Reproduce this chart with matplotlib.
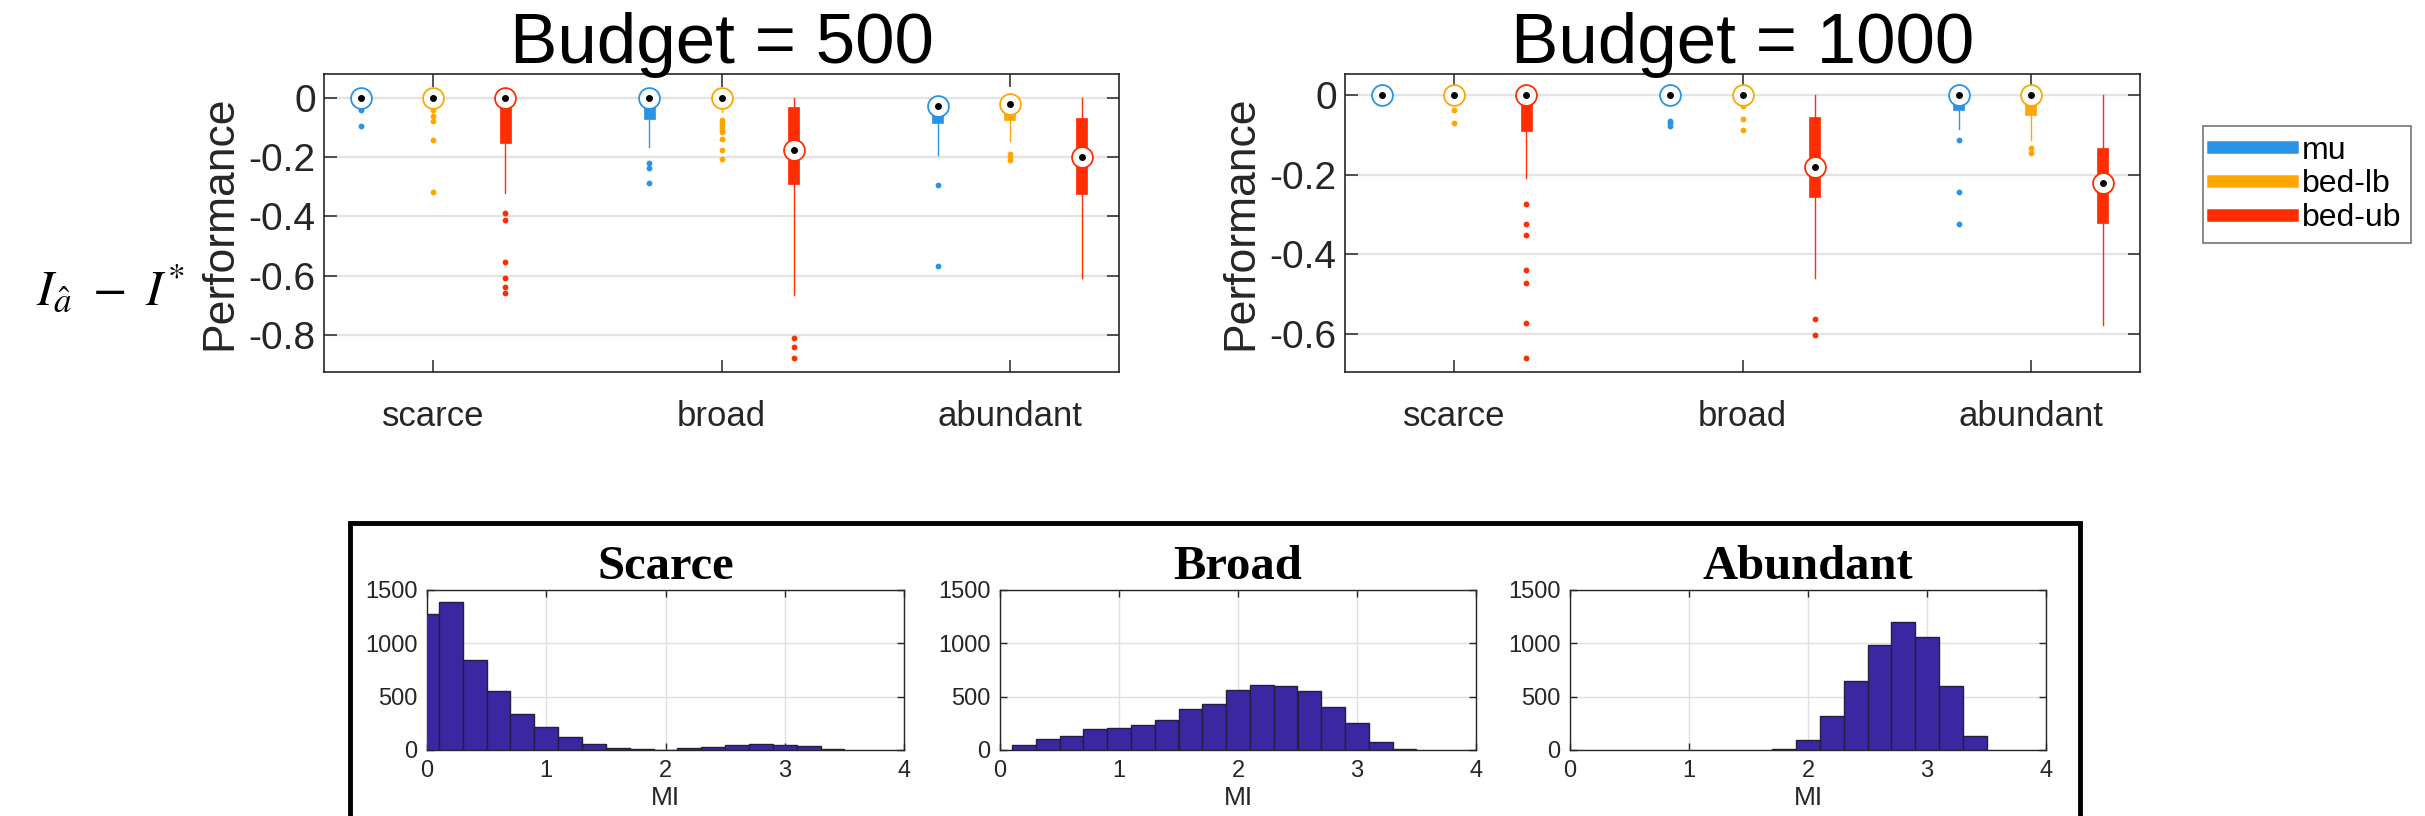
"""
plot.py — boxplots of I_hat - I* per regime, plus MI histograms
"""

import numpy as np
import matplotlib
matplotlib.use("Agg")
import matplotlib.pyplot as plt
from matplotlib.lines import Line2D
from matplotlib.patches import Rectangle

plt.rcParams["font.family"] = ["Liberation Sans", "DejaVu Sans"]
plt.rcParams["axes.unicode_minus"] = False
plt.rcParams["mathtext.fontset"] = "stix"

# ── Data ─────────────────────────────────────────────────────────────────────
categories = ["scarce", "broad", "abundant"]
methods    = ["mu", "bed-lb", "bed-ub"]
colors     = ["#2a93e6", "#ffa600", "#ff2d00"]

# rows = category, cols = method
med_500 = [[0.0, 0.0, 0.0], [0.0, 0.0, -0.177], [-0.028, -0.020, -0.199]]
q3_500  = [[0.0, 0.0, 0.0], [0.0, 0.0, -0.032], [0.0, -0.005, -0.069]]
q1_500  = [[-0.006, -0.006, -0.154], [-0.071, -0.006, -0.292], [-0.086, -0.075, -0.325]]
lo_500  = [[-0.006, -0.012, -0.320], [-0.165, -0.049, -0.664], [-0.192, -0.145, -0.608]]
hi_500  = [[0.0, 0.0, 0.0], [0.0, 0.0, 0.0], [0.0, 0.0, 0.0]]
out_500 = [
    [[-0.025, -0.035, -0.040, -0.097],
     [-0.026, -0.043, -0.062, -0.077, -0.142, -0.318],
     [-0.388, -0.412, -0.553, -0.607, -0.640, -0.657]],
    [[-0.220, -0.238, -0.286],
     [-0.075, -0.085, -0.094, -0.107, -0.116, -0.139, -0.175, -0.205],
     [-0.809, -0.842, -0.877]],
    [[-0.293, -0.569],
     [-0.190, -0.200, -0.209],
     []],
]

med_1000 = [[0.0, 0.0, 0.0], [0.0, 0.0, -0.180], [0.0, 0.0, -0.220]]
q3_1000  = [[0.0, 0.0, 0.0], [0.0, 0.0, -0.056], [0.0, 0.0, -0.134]]
q1_1000  = [[-0.008, -0.010, -0.090], [-0.010, -0.017, -0.256], [-0.038, -0.050, -0.321]]
lo_1000  = [[-0.008, -0.012, -0.209], [-0.012, -0.020, -0.460], [-0.086, -0.113, -0.576]]
hi_1000  = [[0.0, 0.0, 0.0], [0.0, 0.0, 0.0], [0.0, 0.0, 0.0]]
out_1000 = [
    [[],
     [-0.038, -0.071],
     [-0.273, -0.323, -0.352, -0.439, -0.471, -0.571, -0.659]],
    [[-0.065, -0.071, -0.077],
     [-0.023, -0.027, -0.061, -0.088],
     [-0.561, -0.603]],
    [[-0.113, -0.242, -0.323],
     [-0.132, -0.146],
     []],
]

# MI histograms (bin width 0.2)
scarce_edges  = [-0.1, 0.1, 0.3, 0.5, 0.7, 0.9, 1.1, 1.3, 1.5, 1.7, 1.9,
                 2.1, 2.3, 2.5, 2.7, 2.9, 3.1, 3.3]
scarce_counts = [1276, 1388, 845, 550, 339, 214, 124, 53, 16, 6, 3,
                 15, 25, 43, 56, 45, 35, 9]
broad_edges   = [0.1, 0.3, 0.5, 0.7, 0.9, 1.1, 1.3, 1.5, 1.7, 1.9,
                 2.1, 2.3, 2.5, 2.7, 2.9, 3.1, 3.3]
broad_counts  = [43, 106, 134, 196, 205, 239, 283, 382, 429, 562,
                 606, 596, 550, 401, 252, 71, 9]
abund_edges   = [1.7, 1.9, 2.1, 2.3, 2.5, 2.7, 2.9, 3.1, 3.3]
abund_counts  = [6, 97, 321, 643, 983, 1198, 1061, 599, 134]

# ── Layout helpers (pixel boxes) ─────────────────────────────────────────────
W, H = 2425, 816
fig = plt.figure(figsize=(W / 100, H / 100), dpi=100)


def px_axes(x0, y0, x1, y1):
    return fig.add_axes([x0 / W, 1 - y1 / H, (x1 - x0) / W, (y1 - y0) / H])


TXT = "#262626"
OFFS = [-0.25, 0.0, 0.25]


def box_panel(ax, med, q1, q3, lo, hi, out, ylim, yticks, title):
    for ci in range(len(categories)):
        for mi in range(len(methods)):
            x = ci + 1 + OFFS[mi]
            c = colors[mi]
            st = dict(med=med[ci][mi], q1=q1[ci][mi], q3=q3[ci][mi],
                      whislo=lo[ci][mi], whishi=hi[ci][mi],
                      fliers=np.array(out[ci][mi]))
            ax.bxp([st], positions=[x], widths=0.038, patch_artist=True,
                   showcaps=False, manage_ticks=False,
                   boxprops=dict(facecolor=c, edgecolor=c, linewidth=0.5),
                   whiskerprops=dict(color=c, linewidth=1.0),
                   medianprops=dict(linewidth=0),
                   flierprops=dict(marker="o", markerfacecolor=c,
                                   markeredgecolor="none", markersize=4.2),
                   zorder=3)
            ax.plot([x], [med[ci][mi]], "o", ms=15, mfc="white", mec=c,
                    mew=1.3, zorder=4)
            ax.plot([x], [med[ci][mi]], "o", ms=4, color="black", zorder=5)

    ax.set_xlim(0.62, 3.38)
    ax.set_ylim(*ylim)
    ax.set_xticks([1, 2, 3])
    ax.set_xticklabels(categories)
    ax.set_yticks(yticks)
    ax.set_yticklabels(["0" if t == 0 else f"{t:.1f}" for t in yticks])
    ax.yaxis.grid(True, color="#e3e3e3", linewidth=1.6)
    ax.set_axisbelow(True)
    ax.tick_params(direction="in", top=True, right=True, length=9,
                   width=1.1, color=TXT, labelcolor=TXT)
    ax.tick_params(axis="y", labelsize=28, pad=6)
    ax.tick_params(axis="x", labelsize=25, pad=20)
    for s in ax.spines.values():
        s.set_color(TXT)
        s.set_linewidth(1.2)
    ax.set_ylabel("Performance", fontsize=32, color=TXT, labelpad=6)
    ax.set_title(title, fontsize=51, pad=8)


ax1 = px_axes(324, 74, 1119, 372)
box_panel(ax1, med_500, q1_500, q3_500, lo_500, hi_500, out_500,
          (-0.925, 0.08), [-0.8, -0.6, -0.4, -0.2, 0.0], "Budget = 500")

ax2 = px_axes(1345, 74, 2140, 372)
box_panel(ax2, med_1000, q1_1000, q3_1000, lo_1000, hi_1000, out_1000,
          (-0.695, 0.053), [-0.6, -0.4, -0.2, 0.0], "Budget = 1000")

handles = [Line2D([], [], color=c, lw=9) for c in colors]
leg = fig.legend(handles, methods, loc="upper left",
                 bbox_to_anchor=(2203 / W, 1 - 126 / H), fontsize=23,
                 frameon=True, fancybox=False, handlelength=2.5,
                 handletextpad=0.3, labelspacing=0.12, borderpad=0.3,
                 borderaxespad=0)
leg.get_frame().set_edgecolor("#555555")
leg.get_frame().set_linewidth(1.2)

fig.text(110 / W, 1 - 290 / H, r"$I_{\hat{a}}\ -\ I^{*}$", fontsize=36,
         ha="center", va="center")

# ── Histograms ───────────────────────────────────────────────────────────────
fig.patches.append(Rectangle((350 / W, -0.02), (2080 - 350) / W,
                             1 - 523 / H + 0.02, transform=fig.transFigure,
                             fill=False, edgecolor="black", linewidth=3.5))

hist_specs = [
    ("Scarce", scarce_edges, scarce_counts, (427, 904)),
    ("Broad", broad_edges, broad_counts, (1000, 1476)),
    ("Abundant", abund_edges, abund_counts, (1570, 2046)),
]
for name, edges, counts, (x0, x1) in hist_specs:
    ax = px_axes(x0, 590, x1, 750)
    ax.bar(edges, counts, width=0.2, align="edge", color="#3c27a2",
           edgecolor="#22203f", linewidth=1.0, zorder=3)
    ax.set_xlim(0, 4)
    ax.set_ylim(0, 1500)
    ax.set_xticks([0, 1, 2, 3, 4])
    ax.set_yticks([0, 500, 1000, 1500])
    ax.grid(True, color="#e0e0e0", linewidth=1.0)
    ax.set_axisbelow(True)
    ax.tick_params(direction="in", top=True, right=True, length=5,
                   width=1.0, color=TXT, labelcolor=TXT, labelsize=17, pad=7)
    for s in ax.spines.values():
        s.set_color(TXT)
        s.set_linewidth(1.0)
    ax.set_xlabel("MI", fontsize=19, color=TXT, labelpad=3)
    ax.set_title(name, fontsize=35, fontweight="bold",
                 family=["Liberation Serif", "DejaVu Serif"], pad=8)

fig.savefig("out.png", dpi=100)
